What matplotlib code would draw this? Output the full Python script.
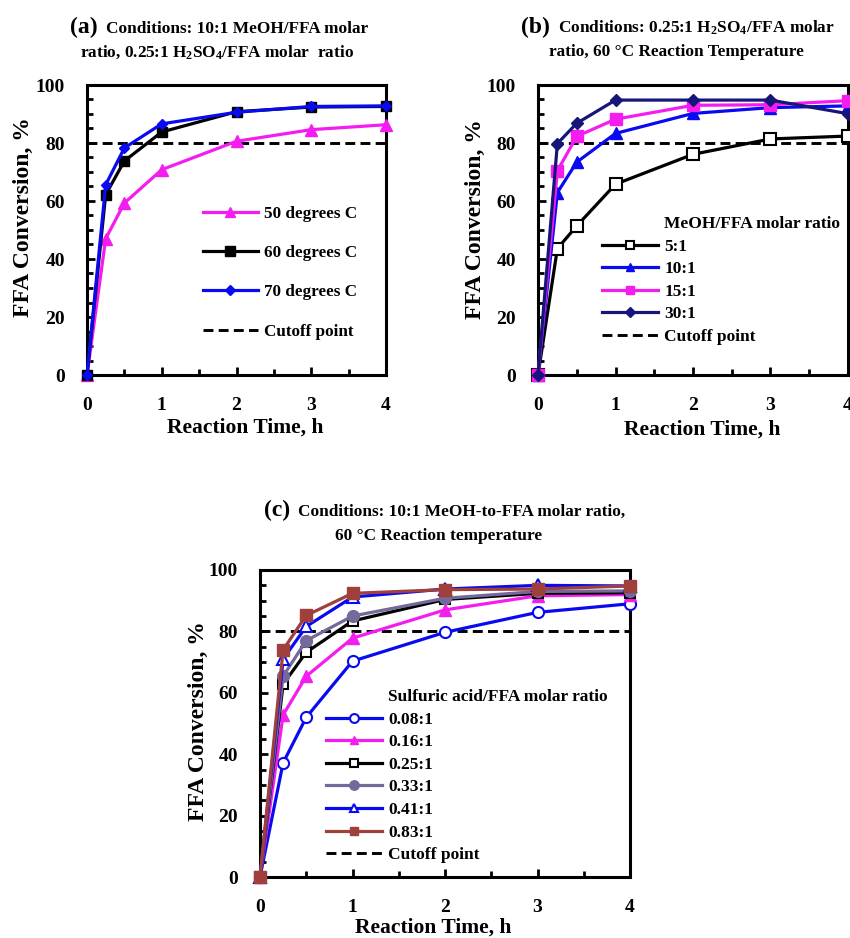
import matplotlib
matplotlib.use("Agg")
import matplotlib.pyplot as plt
from matplotlib.lines import Line2D
from matplotlib.ticker import MultipleLocator

# ---- data -------------------------------------------------------------
time_h = [0, 0.25, 0.5, 1, 2, 3, 4]

# (a) effect of reaction temperature
temp_labels = ["50 degrees C", "60 degrees C", "70 degrees C"]
conv_50C = [0, 47.0, 59.3, 70.8, 80.6, 84.6, 86.3]
conv_60C = [0, 62.2, 73.8, 83.8, 90.8, 92.4, 92.6]
conv_70C = [0, 65.6, 78.3, 86.6, 90.6, 92.6, 92.8]

# (b) effect of MeOH/FFA molar ratio
meoh_labels = ["5:1", "10:1", "15:1", "30:1"]
conv_meoh_5 = [0, 43.6, 51.4, 65.8, 76.1, 81.4, 82.4]
conv_meoh_10 = [0, 62.9, 73.4, 83.3, 90.2, 92.2, 92.8]
conv_meoh_15 = [0, 70.4, 82.3, 88.2, 93.0, 93.2, 94.6]
conv_meoh_30 = [0, 79.8, 86.8, 94.8, 94.8, 94.8, 90.1]

# (c) effect of sulfuric acid/FFA molar ratio
acid_labels = ["0.08:1", "0.16:1", "0.25:1", "0.33:1", "0.41:1", "0.83:1"]
conv_acid_008 = [0, 37.2, 52.0, 70.3, 79.7, 86.2, 89.0]
conv_acid_016 = [0, 52.8, 65.4, 77.8, 87.0, 91.6, 92.0]
conv_acid_025 = [0, 62.8, 73.2, 83.4, 90.4, 92.4, 92.6]
conv_acid_033 = [0, 65.4, 77.0, 85.0, 90.8, 93.0, 93.2]
conv_acid_041 = [0, 71.0, 81.6, 91.2, 93.8, 95.0, 94.8]
conv_acid_083 = [0, 74.0, 85.2, 92.4, 93.6, 93.8, 94.8]

cutoff = 80
x_ticks = [0, 1, 2, 3, 4]
y_ticks = [0, 20, 40, 60, 80, 100]

# ---- style ------------------------------------------------------------
plt.rcParams.update({
    "font.family": ["Liberation Serif", "DejaVu Serif"],
    "font.weight": "bold",
    "axes.labelweight": "bold",
    "mathtext.fontset": "custom",
    "mathtext.rm": "Liberation Serif:bold",
    "mathtext.it": "Liberation Serif:bold",
    "mathtext.bf": "Liberation Serif:bold",
})

W, H = 850, 938
fig = plt.figure(figsize=(W / 100, H / 100), dpi=100)

MAGENTA = "#f51cf0"
BLUE = "#0a0af0"
NAVY = "#16167a"
PURPLE = "#75689a"
BROWN = "#a0403c"
LW = 2.3
DASH = (0, (3.4, 1.8))


def fx(px):
    return px / W


def fy(py):
    return 1 - py / H


def make_axes(left, top, right, bottom):
    ax = fig.add_axes([fx(left), fy(bottom), (right - left) / W, (bottom - top) / H])
    ax.set_xlim(0, 4)
    ax.set_ylim(0, 100)
    ax.set_xticks(x_ticks)
    ax.set_yticks(y_ticks)
    ax.xaxis.set_minor_locator(MultipleLocator(0.5))
    ax.yaxis.set_minor_locator(MultipleLocator(5))
    ax.tick_params(which="both", direction="in", top=False, right=False, width=2)
    ax.tick_params(which="major", length=6, labelsize=14)
    ax.tick_params(which="minor", length=4)
    ax.tick_params(axis="y", which="major", pad=16)
    ax.tick_params(axis="x", which="major", pad=16)
    for sp in ax.spines.values():
        sp.set_linewidth(2.2)
    ax.axhline(cutoff, color="black", lw=2.1, ls=DASH, zorder=1)
    return ax


def series(ax, y, **kw):
    ax.plot(time_h, y, lw=LW, clip_on=False, zorder=3, **kw)


def labels(xlab_xy, ylab_xy):
    fig.text(fx(xlab_xy[0]), fy(xlab_xy[1]), "Reaction Time, h",
             ha="center", va="center", fontsize=15.5, fontweight="bold")
    fig.text(fx(ylab_xy[0]), fy(ylab_xy[1]), "FFA Conversion, %",
             ha="center", va="center", rotation=90, fontsize=17,
             fontweight="bold")


def title(tag, tag_right, line1, line2, center_x, base1, base2):
    fig.text(fx(tag_right), fy(base1), tag, ha="right", va="baseline",
             fontsize=17, fontweight="bold")
    fig.text(fx(tag_right + 8), fy(base1), line1, ha="left", va="baseline",
             fontsize=12.4, fontweight="bold")
    fig.text(fx(center_x), fy(base2), line2, ha="center", va="baseline",
             fontsize=12.4, fontweight="bold")


def legend(ax, handles, texts, left, top, size, spacing, scale):
    ax.legend(handles, texts, loc="upper left",
              bbox_to_anchor=(fx(left), fy(top)),
              bbox_transform=fig.transFigure, frameon=False, fontsize=size,
              borderpad=0, borderaxespad=0, handlelength=3.2,
              handletextpad=0.38, labelspacing=spacing, markerscale=scale)


cut_handle = Line2D([], [], color="black", lw=2.1, ls=DASH)
blank = Line2D([], [], ls="none")

# ---- (a) --------------------------------------------------------------
ax_a = make_axes(87, 85, 386, 375)
series(ax_a, conv_50C, color=MAGENTA, marker="^", ms=8)
series(ax_a, conv_60C, color="black", marker="s", ms=7.5)
series(ax_a, conv_70C, color=BLUE, marker="D", ms=5.5)
h = ax_a.get_lines()[1:]
legend(ax_a, h + [cut_handle], temp_labels + ["Cutoff point"],
       203, 206, 12.3, 1.36, 0.95)
labels((245, 428), (23, 217))
title("(a)", 98, "Conditions: 10:1 MeOH/FFA molar",
      "ratio, 0.25:1 H$_2$SO$_4$/FFA molar  ratio", 217, 33, 57)

# ---- (b) --------------------------------------------------------------
ax_b = make_axes(538, 85, 848, 375)
series(ax_b, conv_meoh_5, color="black", marker="s", ms=8, mfc="white", mew=1.5)
series(ax_b, conv_meoh_10, color=BLUE, marker="^", ms=8)
series(ax_b, conv_meoh_15, color=MAGENTA, marker="s", ms=8)
series(ax_b, conv_meoh_30, color=NAVY, marker="D", ms=6)
h = ax_b.get_lines()[1:]
legend(ax_b, [blank] + h + [cut_handle],
       ["MeOH/FFA molar ratio"] + meoh_labels + ["Cutoff point"],
       602, 216, 12.5, 0.37, 0.8)
labels((702, 430), (475, 219))
title("(b)", 550, "Conditions: 0.25:1 H$_2$SO$_4$/FFA molar",
      "ratio, 60 °C Reaction Temperature", 676, 33, 56)

# ---- (c) --------------------------------------------------------------
ax_c = make_axes(260, 570, 630, 877)
series(ax_c, conv_acid_008, color=BLUE, marker="o", ms=8, mfc="white", mew=1.5)
series(ax_c, conv_acid_016, color=MAGENTA, marker="^", ms=8)
series(ax_c, conv_acid_025, color="black", marker="s", ms=7.5, mfc="white", mew=1.5)
series(ax_c, conv_acid_033, color=PURPLE, marker="o", ms=8.5)
series(ax_c, conv_acid_041, color=BLUE, marker="^", ms=8, mfc="white", mew=1.5)
series(ax_c, conv_acid_083, color=BROWN, marker="s", ms=8)
h = ax_c.get_lines()[1:]
legend(ax_c, [blank] + h + [cut_handle],
       ["Sulfuric acid/FFA molar ratio"] + acid_labels + ["Cutoff point"],
       326, 689, 12.5, 0.37, 0.8)
labels((433, 928), (198, 721))
title("(c)", 290, "Conditions: 10:1 MeOH-to-FFA molar ratio,",
      "60 °C Reaction temperature", 439, 516, 540)

fig.savefig("out.png", dpi=100)
